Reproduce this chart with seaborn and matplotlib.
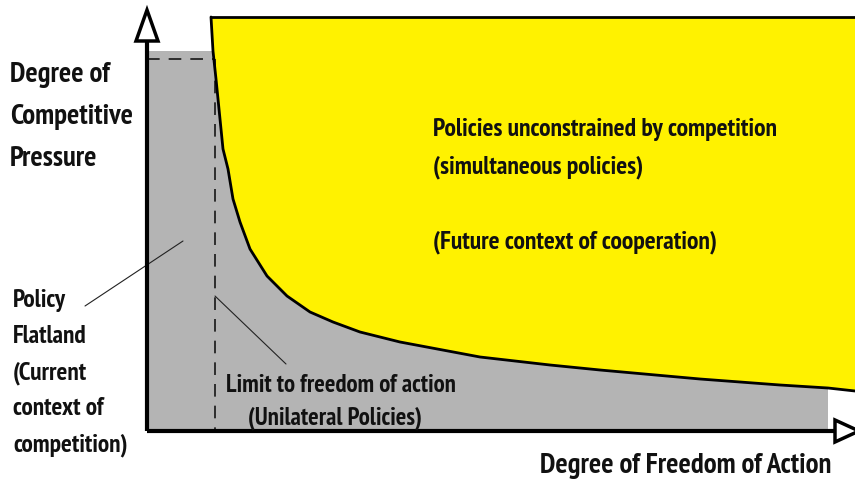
import numpy as np
import pandas as pd
import seaborn as sns
import matplotlib.pyplot as plt
from matplotlib import font_manager
from matplotlib.font_manager import FontProperties

freedom = [64, 66, 69, 71, 76, 81, 86, 93, 103, 120, 140, 163, 186, 213, 253, 333, 403, 453, 553, 633, 681, 708]
pressure = [414, 380, 352, 332, 282, 262, 232, 209, 182, 155, 135, 119, 109, 99, 89, 74, 66, 61, 52, 46, 43, 40]
flat_top = 380      # techo de la zona gris
limit_x = 68        # limite a la libertad de accion
gray_end = 681      # fin de la zona gris
top_line = 414

y_label = ['Degree of', 'Competitive', 'Pressure']
flat_label = ['Policy', 'Flatland', '(Current', 'context of', 'competition)']
yellow_label = ['Policies unconstrained by competition', '(simultaneous policies)',
                '(Future context of cooperation)']
limit_label = ['Limit to freedom of action', '(Unilateral Policies)']
x_label = 'Degree of Freedom of Action'

sns.set_style('white')


def buscar_fuente():
    # fuente negrita y estrecha si existe alguna
    def peso(f):
        w = f.weight
        if isinstance(w, str):
            return 700 if 'bold' in w.lower() or 'black' in w.lower() or 'heavy' in w.lower() else 400
        return w
    lista = font_manager.fontManager.ttflist
    for clave in ['Narrow', 'Condensed', 'condensed']:
        for f in lista:
            if peso(f) >= 600 and (clave in f.name or clave in f.fname or clave == f.stretch):
                return FontProperties(fname=f.fname)
    return FontProperties(family='DejaVu Sans', weight='bold')


fp = buscar_fuente()

df = pd.DataFrame({'freedom': freedom, 'pressure': pressure})

fig = plt.figure(figsize=(8.55, 4.85), dpi=100)
ax = fig.add_axes([0, 0, 1, 1])
ax.set_xlim(-147, 708)
ax.set_ylim(-53, 432)
ax.set_axis_off()

# zona amarilla (por encima de la curva)
yx = list(df.freedom) + [708, df.freedom[0]]
yy = list(df.pressure) + [top_line, top_line]
ax.fill(yx, yy, color='#fff200', lw=0, zorder=1)

# zona gris (por debajo de la curva)
sub = df[(df.pressure <= flat_top) & (df.freedom <= gray_end)]
gx = [0, 0] + list(sub.freedom) + [gray_end]
gy = [0, flat_top] + list(sub.pressure) + [0]
ax.fill(gx, gy, color='#b4b4b4', lw=0, zorder=1)

sns.lineplot(data=df, x='freedom', y='pressure', ax=ax, color='black', lw=2,
             estimator=None, sort=False, zorder=3)
ax.plot([df.freedom[0], 708], [top_line, top_line], color='black', lw=2, zorder=3)

# lineas discontinuas
ax.plot([0, limit_x - 2], [372, 372], color='#222222', lw=1.3, dashes=(7, 5), zorder=2)
ax.plot([limit_x, limit_x], [372, 0], color='#222222', lw=1.3, dashes=(7, 5), zorder=2)

# ejes
ax.plot([0, 0], [0, 392], color='black', lw=3, zorder=4, solid_capstyle='butt')
ax.plot([0, 688], [0, 0], color='black', lw=3, zorder=4, solid_capstyle='butt')
ax.fill([-11, 11, 0], [390, 390, 421], facecolor='white', edgecolor='black', lw=2.5, zorder=5)
ax.fill([688, 688, 712], [11, -11, 0], facecolor='white', edgecolor='black', lw=2.5, zorder=5,
        clip_on=False)

# lineas guia
ax.plot([-62, 36], [125, 190], color='#222222', lw=0.8, zorder=2)
ax.plot([68, 139], [135, 67], color='#222222', lw=0.8, zorder=2)


def bloque(lineas, x, bases, ancho, ref=0, dx=None):
    # ajusta el tamano para que la linea de referencia mida 'ancho' px
    dx = dx or [0] * len(lineas)
    ts = [ax.text(x + d, b, t, fontproperties=fp, fontsize=18, color='#111111',
                  va='baseline', ha='left', zorder=6)
          for t, b, d in zip(lineas, bases, dx)]
    r = fig.canvas.get_renderer()
    w = ts[ref].get_window_extent(r).width
    for t in ts:
        t.set_fontsize(18 * ancho / w)


bloque(y_label, -137, [350, 308, 266], 123, ref=1)
bloque(flat_label, -134, [125, 89, 53, 17, -19], 115, ref=4)
bloque(yellow_label, 286, [296, 259, 184], 345, ref=0)
bloque(limit_label, 79, [40, 8], 229, ref=0, dx=[0, 22])
bloque([x_label], 393, [-41], 292)

fig.savefig('out.png', dpi=100)
